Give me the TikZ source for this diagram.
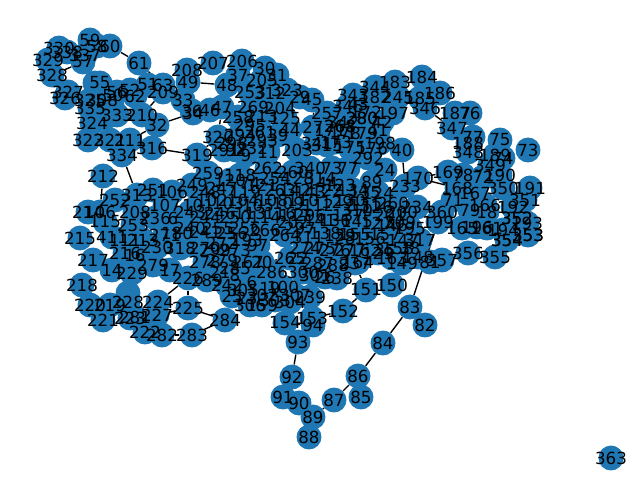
\documentclass[tikz,border=0pt]{standalone}
\usepackage{fontspec}
\setmainfont{DejaVu Sans}
\pgfdeclarelayer{edgelayer}
\pgfsetlayers{edgelayer,main}
\definecolor{nodeblue}{HTML}{1F77B4}
\tikzset{
  disc/.style={circle,fill=nodeblue,minimum size=18.7pt,inner sep=0pt,draw=none},
  numlabel/.style={inner sep=0pt,text=black,font=\fontsize{12.5pt}{14pt}\selectfont},
  link/.style={draw=black,line width=1.04pt}
}
\def\plainnodes{330/59/48,329/48/60,59/90/40,58/97/46,338/67/52,337/85/55,57/83/62,328/52/75,327/68/92,326/65/98,352/95/83,55/100/83,60/110/46,61/139/63,
56/117/92,50/113/95,52/130/90,62/135/96,51/148/85,63/163/85,209/163/92,208/187/70,49/188/82,33/183/100,34/193/113,36/192/111,46/210/110,
210/142/115,32/157/125,316/152/148,319/197/155,211/130/140,322/88/140,321/110/140,334/122/155,324/92/123,333/117/115,354/112/105,325/90/100,335/90/108,353/105/118,
207/213/63,206/242/61,30/265/68,37/238/75,205/262/80,31/277/75,48/227/85,47/222/107,323/287/90,253/250/92,320/218/137,312/270/93,29/300/97,45/312/100,204/280/108,269/253/107,258/238/117,213/262/116,125/285/118,261/260/132,39/278/135,44/290/130,27/313/127,203/297/150,341/317/143,315/327/145,92/236/150,11/268/152,
343/353/95,257/327/113,342/343/122,
184/422/77,183/395/82,344/375/87,182/375/97,245/398/97,185/420/98,186/440/93,346/425/108,197/393/113,187/455/113,76/470/113,347/452/128,41/378/130,42/382/122,179/362/133,198/380/143,40/402/150,77/473/137,188/468/143,348/468/152,75/500/140,73/528/150,189/495/155,74/503/158,349/490/165,190/500/175,169/448/172,78/463/175,72/483/177,24/385/170,292/368/158,170/418/178,233/405/186,168/457/188,167/475/193,350/503/188,191/530/188,351/525/200,71/453/200,166/485/205,
360/442/212,79/470/210,18/487/212,192/513/207,352/517/218,193/527/223,353/528/235,354/507/240,355/495/257,356/468/253,194/503/230,165/462/228,196/477/227,161/487/228,199/438/222,357/442/260,81/430/262,234/417/207,
212/103/176,214/88/212,106/172/192,252/115/200,313/137/195,251/153/190,107/165/205,115/105/222,215/80/238,411/112/237,111/125/240,230/157/247,216/125/253,217/93/260,16/135/255,236/155/218,6/173/218,271/165/235,180/177/233,
14/112/270,229/132/273,279/153/265,17/170/270,226/188/278,218/82/285,280/128/293,228/128/302,224/158/302,219/110/305,220/90/305,221/103/320,223/130/318,227/157/315,225/188/308,222/145/332,282/162/335,283/192/335,281/135/317,284/225/320,
264/285/235,311/308/237,265/290/258,97/258/245,267/248/262,20/262/262,100/283/287,242/227/285,305/243/290,23/247/298,159/262/305,239/310/297,300/303/272,154/285/323,
238/337/278,26/325/277,237/355/263,149/402/263,148/418/257,151/366/290,150/392/285,152/343/311,83/410/307,82/425/325,129/378/253,147/403/240,
93/298/342,91/283/397,90/299/403,89/313/417,88/309/437,87/334/400,85/361/397,86/358/376,84/383/343,94/313/325,153/312/318,363/611/458,
259/208/173,118/240/175,262/267/168,260/293/172,340/310/168,314/320/178,122/327/190,134/353/190,310/357/210,202/293/222,141/320/220,136/335/220,145/357/222,127/377/223,126/377/207,
249/192/185,248/205/192,247/222/188,120/230/180,119/245/192,121/262/185,254/275/178,263/280/190,142/295/190,143/310/192,144/322/183,123/340/185,135/365/192,124/378/193,
101/198/205,102/212/200,103/228/203,104/243/200,105/258/205,108/272/200,109/288/203,110/303/200,112/318/205,130/350/200,131/365/205,200/402/212,201/390/215,
243/190/212,244/205/217,246/220/213,250/235/217,113/250/213,114/265/217,116/280/213,117/295/215,296/310/215,137/348/215,146/392/225,195/410/228,
240/190/228,241/205/232,255/218/228,256/232/233,266/265/230,297/300/228,138/325/233,139/340/235,155/355/235,156/370/238,157/385/235,158/398/248,
268/190/245,270/205/248,272/222/243,273/235/250,274/305/248,275/320/248,276/335/250,277/350/250,162/365/250,163/392/258,164/358/262,
278/205/262,285/235/268,286/272/272,287/318/263,288/333/265,
289/207/280,8/235/275,301/315/275,
25/232/296,302/262/295,303/275/300,304/290/302,306/250/305,307/295/295,
291/224/150,232/252/148,293/262/140,294/240/135,295/250/125,298/232/143,9/246/155,
345/348/106,43/358/104,280/362/118,178/345/133,268/340/126,175/350/148,172/366/112,171/330/130,176/372/148,173/336/142,
308/102/100,309/400/222,317/420/240,318/180/248,
299/215/250,19/270/288,21/220/272,22/298/258,28/345/238,35/385/250,38/410/248}
\def\repeatnodes{a/106/100/212,b/208/135/212,c/253/133/225,d/213/143/240,e/193/247/240,f/92/292/377,g/73/332/168,h/77/348/168,i/128/298/178,j/89/372/182,k/129/337/202,l/260/393/203,m/74/250/183,o/256/245/228,p/279/222/260,q/6/252/282}
\begin{document}
\begin{tikzpicture}[x=0.75pt,y=-0.75pt]
\useasboundingbox (0,0) rectangle (640,480);
\foreach \l/\x/\y in \plainnodes { \node[disc] (n\l) at (\x,\y) {}; }
\foreach \l/\t/\x/\y in \repeatnodes { \node[disc] (n\l) at (\x,\y) {}; }
\foreach \l/\x/\y in \plainnodes { \node[numlabel] at (n\l) {\l}; }
\foreach \l/\t/\x/\y in \repeatnodes { \node[numlabel] at (n\l) {\t}; }
\begin{pgfonlayer}{edgelayer}
\fill[white] (0,0) rectangle (640,480);
\foreach \a/\b in {60/61,61/63,316/319,319/320,32/34,34/47,208/207,49/48,47/320,32/211,32/210,210/209,57/328,334/313,212/a,346/347,347/187,186/187,40/233,170/169,170/168,45/341,199/83,83/84,83/82,84/86,86/87,87/89,89/90,90/91,89/88,f/93,f/91,93/154,93/94,151/152,152/153,284/225,284/283,225/226,226/224,225/227,282/283,356/357,226/17,316/32,211/334,238/237,151/237,20/265}
  \draw[link] (n\a) -- (n\b);
\end{pgfonlayer}
\end{tikzpicture}
\end{document}
